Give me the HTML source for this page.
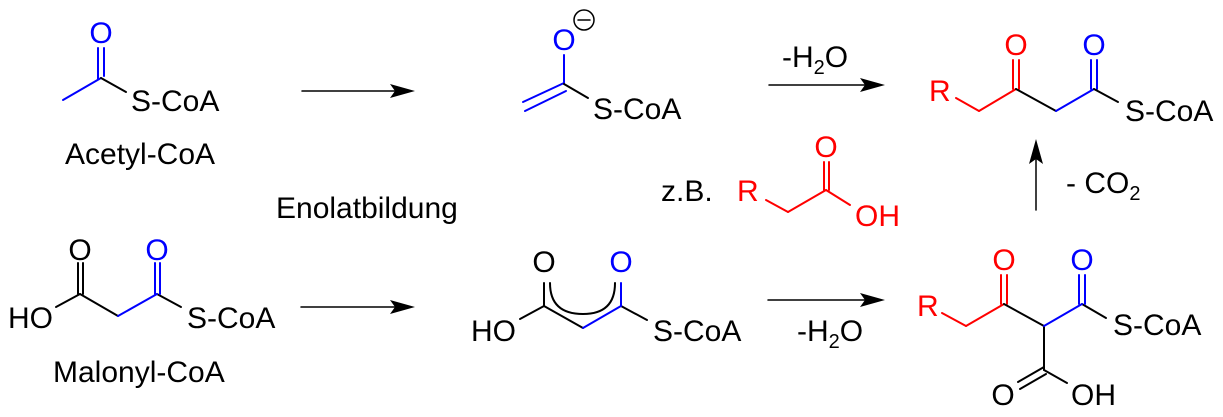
<!DOCTYPE html>
<html><head><meta charset="utf-8"><style>
body{margin:0;background:#fff;}
svg text{font-family:"Liberation Sans",Arial,sans-serif;font-size:30px;}
.o{text-anchor:middle;}
</style></head><body>
<svg width="1223" height="412" viewBox="0 0 1223 412" xmlns="http://www.w3.org/2000/svg">
<g stroke-width="2" fill="none" stroke-linecap="round">
<g stroke="#00f"><line x1="98" y1="48" x2="98" y2="79"/><line x1="104" y1="48" x2="104" y2="76"/><line x1="101" y1="78" x2="63" y2="100"/></g>
<line x1="101" y1="78" x2="126" y2="92" stroke="#000"/>
<g stroke="#000"><line x1="78" y1="263" x2="78" y2="294"/><line x1="83" y1="263" x2="83" y2="294"/><line x1="80" y1="294" x2="56" y2="307"/><line x1="80" y1="294" x2="118" y2="316"/><line x1="157" y1="294" x2="181" y2="307"/></g>
<g stroke="#00f"><line x1="118" y1="316" x2="157" y2="294"/><line x1="155" y1="263" x2="155" y2="294"/><line x1="160" y1="263" x2="160" y2="294"/></g>
<g stroke="#00f"><line x1="564" y1="55" x2="564" y2="84"/><line x1="564" y1="83" x2="523" y2="102"/><line x1="566" y1="91" x2="525" y2="111"/></g>
<line x1="564" y1="84" x2="588" y2="98" stroke="#000"/>
<circle cx="584" cy="20" r="10" stroke="#000" stroke-width="1.5"/><line x1="578" y1="20" x2="590" y2="20" stroke="#000" stroke-width="1.5"/>
<g stroke="#000"><line x1="544" y1="283" x2="544" y2="306"/><line x1="544" y1="306" x2="520" y2="319"/><line x1="544" y1="306" x2="583" y2="328"/><line x1="621" y1="306" x2="647" y2="320"/><path d="M550,283 Q550,314 583,314 Q615,314 615,283"/></g>
<g stroke="#00f"><line x1="583" y1="328" x2="621" y2="306"/><line x1="621" y1="283" x2="621" y2="306"/></g>
<g stroke="#f00"><line x1="766" y1="200" x2="788" y2="212"/><line x1="788" y1="212" x2="826" y2="190"/><line x1="824" y1="162" x2="824" y2="190"/><line x1="829" y1="162" x2="829" y2="190"/><line x1="826" y1="190" x2="850" y2="205"/></g>
<g stroke="#f00"><line x1="956" y1="98" x2="979" y2="111"/><line x1="979" y1="111" x2="1016" y2="89"/><line x1="1013" y1="60" x2="1013" y2="89"/><line x1="1019" y1="60" x2="1019" y2="89"/></g>
<line x1="1016" y1="89" x2="1056" y2="111" stroke="#000"/>
<g stroke="#00f"><line x1="1056" y1="111" x2="1094" y2="89"/><line x1="1091" y1="60" x2="1091" y2="89"/><line x1="1097" y1="60" x2="1097" y2="89"/></g>
<line x1="1094" y1="89" x2="1118" y2="102" stroke="#000"/>
<g stroke="#f00"><line x1="942" y1="313" x2="966" y2="326"/><line x1="966" y1="326" x2="1004" y2="304"/><line x1="1001" y1="275" x2="1001" y2="304"/><line x1="1007" y1="275" x2="1007" y2="304"/></g>
<g stroke="#000"><line x1="1004" y1="304" x2="1044" y2="326"/><line x1="1082" y1="304" x2="1106" y2="318"/><line x1="1044" y1="326" x2="1044" y2="370"/><line x1="1044" y1="370" x2="1067" y2="383"/><line x1="1044" y1="367" x2="1018" y2="382"/><line x1="1046" y1="374" x2="1020" y2="389"/></g>
<g stroke="#00f"><line x1="1044" y1="326" x2="1082" y2="304"/><line x1="1079" y1="275" x2="1079" y2="304"/><line x1="1085" y1="275" x2="1085" y2="304"/></g>
<g stroke="#000" stroke-width="1.5">
<line x1="302" y1="91" x2="400" y2="91"/>
<line x1="301" y1="307" x2="400" y2="307"/>
<line x1="769" y1="85" x2="870" y2="85"/>
<line x1="768" y1="300" x2="870" y2="300"/>
<line x1="1036" y1="210" x2="1036" y2="155"/>
</g>
</g>
<g fill="#000">
<path d="M415,91 L390,84 L395,91 L390,98 Z"/>
<path d="M415,307 L390,300 L395,307 L390,314 Z"/>
<path d="M885,85 L860,78 L865,85 L860,92 Z"/>
<path d="M885,300 L860,293 L865,300 L860,307 Z"/>
<path d="M1036,139 L1029,164 L1036,159 L1043,164 Z"/>
</g>
<g fill="#000">
<text x="131" y="111">S-CoA</text>
<text x="65" y="164">Acetyl-CoA</text>
<text x="276" y="218">Enolatbildung</text>
<text x="8" y="328">HO</text>
<text class="o" x="80" y="260">O</text>
<text x="187" y="328">S-CoA</text>
<text x="53" y="382">Malonyl-CoA</text>
<text x="593" y="119">S-CoA</text>
<text x="782" y="67">-H<tspan font-size="20" dy="7">2</tspan><tspan dy="-7">O</tspan></text>
<text x="797" y="341">-H<tspan font-size="20" dy="7">2</tspan><tspan dy="-7">O</tspan></text>
<text x="661" y="201">z.B.</text>
<text x="471" y="341">HO</text>
<text class="o" x="544" y="272">O</text>
<text x="653" y="341">S-CoA</text>
<text x="1125" y="121">S-CoA</text>
<text x="1066" y="193">- CO<tspan font-size="20" dy="7">2</tspan></text>
<text x="1113" y="335">S-CoA</text>
<text class="o" x="1003" y="405">O</text>
<text x="1071" y="405">OH</text>
</g>
<g fill="#00f">
<text class="o" x="101" y="43">O</text>
<text class="o" x="157" y="260">O</text>
<text class="o" x="564" y="50">O</text>
<text class="o" x="621" y="272">O</text>
<text class="o" x="1094" y="55">O</text>
<text class="o" x="1082" y="270">O</text>
</g>
<g fill="#f00">
<text x="737" y="201">R</text>
<text class="o" x="826" y="157">O</text>
<text x="855" y="226">OH</text>
<text x="929" y="101">R</text>
<text class="o" x="1016" y="55">O</text>
<text x="917" y="316">R</text>
<text class="o" x="1004" y="270">O</text>
</g>
</svg>
</body></html>
